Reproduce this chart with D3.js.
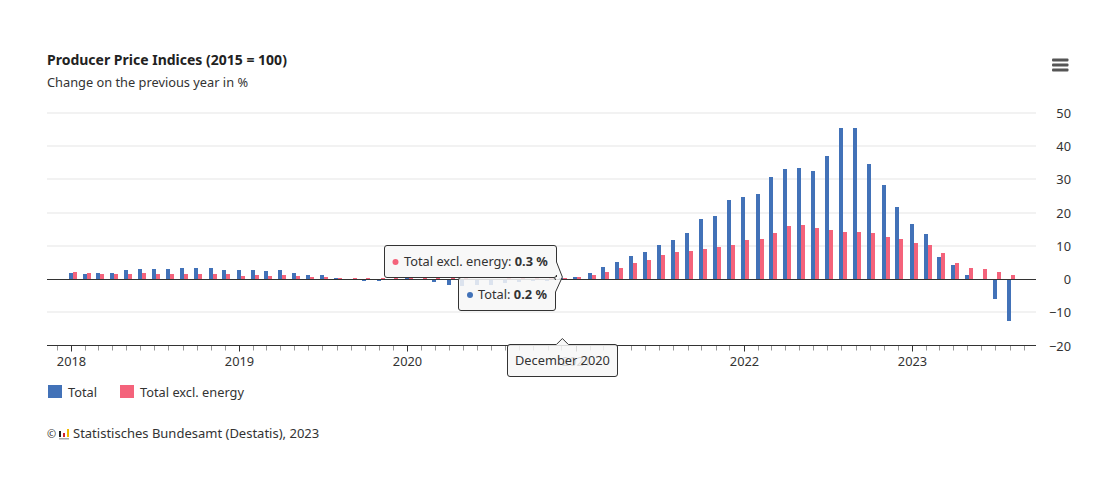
<!DOCTYPE html>
<html>
<head>
<meta charset="utf-8">
<title>Producer Price Indices</title>
<script src="https://cdnjs.cloudflare.com/ajax/libs/d3/7.8.5/d3.min.js"></script>
<style>
  html, body { margin: 0; padding: 0; background: #fff; }
  svg { display: block; }
  text { font-family: "Noto Sans", sans-serif; fill: #333; }
</style>
</head>
<body>
<svg id="chart" width="1107" height="478"></svg>
<script>
var seriesNames = ['Total', 'Total excl. energy'];
var seriesColors = ['#4272b8', '#f4637b'];
var yTicks = [-20, -10, 0, 10, 20, 30, 40, 50];

// monthly, January 2018 to August 2023
var total = [
  1.9, 1.6, 1.7, 1.9, 2.6, 2.9, 2.9, 3.1, 3.2, 3.2, 3.2, 2.6,
  2.6, 2.6, 2.3, 2.6, 1.9, 1.2, 1.1, 0.3, -0.1, -0.6, -0.7, -0.2,
  0.2, -0.1, -0.8, -1.9, -2.2, -1.8, -1.7, -1.2, -1.0, -0.7, -0.5, 0.2,
  0.7, 1.9, 3.7, 5.2, 7.0, 8.2, 10.3, 11.8, 14.0, 18.2, 19.1, 23.9,
  24.8, 25.7, 30.8, 33.2, 33.5, 32.6, 37.2, 45.6, 45.6, 34.6, 28.3, 21.7,
  16.6, 13.6, 6.7, 4.3, 1.2, 0.1, -6.1, -12.6
];
var totalExclEnergy = [
  2.2, 1.9, 1.6, 1.6, 1.6, 1.9, 1.6, 1.6, 1.6, 1.6, 1.6, 1.6,
  1.0, 1.3, 1.0, 1.3, 1.0, 0.7, 0.7, 0.4, 0.3, 0.4, 0.3, 0.3,
  0.5, 0.5, 0.5, 0.3, 0.2, 0.1, 0.1, 0.2, 0.2, 0.2, 0.2, 0.3,
  0.7, 1.3, 2.2, 3.4, 4.9, 5.8, 7.3, 8.2, 8.5, 9.1, 9.7, 10.3,
  11.8, 12.1, 14.0, 16.1, 16.4, 15.5, 14.8, 14.2, 14.2, 13.9, 12.7, 12.1,
  10.9, 10.3, 7.9, 4.9, 3.3, 3.0, 2.2, 1.3
];
var hoverIndex = 35; // December 2020

var months = total.map(function(d, i) { return new Date(2018, i, 1); });

var svg = d3.select('#chart');
var plotLeft = 47, plotRight = 1035, plotTop = 113, plotBottom = 345.5;
var labelSize = '12.8px';

var x = d3.scaleTime()
  .domain([new Date(2018, 0, 1), new Date(2023, 0, 1)])
  .range([71.3, 912.4]);
x.domain([x.invert(plotLeft), x.invert(plotRight)]).range([plotLeft, plotRight]);

var y = d3.scaleLinear().domain([-20, 50]).range([plotBottom, plotTop]);

var band = d3.scaleBand().domain(seriesNames).range([-2.8, 5.2]);

function snapTicks(g) {
  g.selectAll('.tick').attr('transform', function(d) {
    return 'translate(' + (Math.floor(x(d)) + 0.5) + ',0)';
  });
}

// title
svg.append('text').attr('x', 47).attr('y', 65)
  .style('font-size', '14px').style('font-weight', 700).style('fill', '#222')
  .text('Producer Price Indices (2015 = 100)');
svg.append('text').attr('x', 47).attr('y', 87)
  .style('font-size', labelSize)
  .text('Change on the previous year in %');

// menu button
svg.append('g').selectAll('rect').data([60, 65, 70]).enter().append('rect')
  .attr('x', 1052).attr('y', function(d) { return d - 1.5; })
  .attr('width', 16.5).attr('height', 3).attr('rx', 1)
  .attr('fill', '#555');

// grid
svg.append('g').selectAll('line').data(yTicks.filter(function(d) { return d !== -20 && d !== 0; }))
  .enter().append('line')
  .attr('x1', plotLeft).attr('x2', plotRight + 1)
  .attr('y1', function(d) { return Math.round(y(d)); }).attr('y2', function(d) { return Math.round(y(d)); })
  .attr('stroke', '#f2f2f2').attr('stroke-width', 2);

// y labels
svg.append('g').selectAll('text').data(yTicks).enter().append('text')
  .attr('x', 1071).attr('y', function(d) { return y(d) + 5; })
  .attr('text-anchor', 'end').style('font-size', labelSize)
  .text(function(d) { return d < 0 ? '\u2212' + Math.abs(d) : d; });

// bars
[total, totalExclEnergy].forEach(function(values, s) {
  svg.append('g').selectAll('rect').data(values).enter().append('rect')
    .attr('x', function(d, i) { return Math.round(x(months[i]) + band(seriesNames[s])); })
    .attr('y', function(d) { return Math.round(y(Math.max(d, 0))); })
    .attr('width', band.bandwidth())
    .attr('height', function(d) { return Math.abs(Math.round(y(d)) - Math.round(y(0))); })
    .attr('fill', seriesColors[s]);
});

// zero line
var zeroY = Math.round(y(0)) + 0.5;
svg.append('line').attr('x1', plotLeft).attr('x2', plotRight + 1)
  .attr('y1', zeroY).attr('y2', zeroY).attr('stroke', '#333').attr('stroke-width', 1);

// x axis
var xMinor = d3.axisBottom(x).ticks(d3.timeMonth.every(1)).tickSize(5).tickFormat('');
var gMinor = svg.append('g').attr('transform', 'translate(0,' + plotBottom + ')').call(xMinor).call(snapTicks);
gMinor.select('.domain').remove();
gMinor.selectAll('line').attr('stroke', '#999');

var xMajor = d3.axisBottom(x).ticks(d3.timeYear.every(1)).tickSize(6).tickPadding(5)
  .tickFormat(d3.timeFormat('%Y'));
var gMajor = svg.append('g').attr('transform', 'translate(0,' + plotBottom + ')').call(xMajor).call(snapTicks);
gMajor.select('.domain').remove();
gMajor.selectAll('line').attr('stroke', '#333');
gMajor.selectAll('text').style('font-size', labelSize).style('font-family', '"Noto Sans", sans-serif');

svg.append('line').attr('x1', plotLeft).attr('x2', plotRight + 1)
  .attr('y1', plotBottom).attr('y2', plotBottom).attr('stroke', '#333').attr('stroke-width', 1);

// legend
var legendX = [48, 120];
seriesNames.forEach(function(name, i) {
  svg.append('rect').attr('x', legendX[i]).attr('y', 385)
    .attr('width', 14).attr('height', 13).attr('fill', seriesColors[i]);
  svg.append('text').attr('x', legendX[i] + 20).attr('y', 397)
    .style('font-size', labelSize).text(name);
});

// credit
svg.append('text').attr('x', 47).attr('y', 438).style('font-size', '11px').text('\u00a9');
var logo = svg.append('g').attr('transform', 'translate(59,429)');
logo.append('rect').attr('x', 0).attr('y', 9).attr('width', 10).attr('height', 1.5).attr('fill', '#aaa');
logo.append('rect').attr('x', 0).attr('y', 2).attr('width', 2).attr('height', 6).attr('fill', '#222');
logo.append('rect').attr('x', 4).attr('y', 4).attr('width', 2).attr('height', 4).attr('fill', '#d3232a');
logo.append('rect').attr('x', 8).attr('y', 0).attr('width', 2).attr('height', 8).attr('fill', '#f2b900');
svg.append('text').attr('x', 73).attr('y', 438).style('font-size', '13px')
  .text('Statistisches Bundesamt (Destatis), 2023');

// tooltip
var tipX = x(months[hoverIndex]) + 0.5;
var tipY = zeroY - 2.5;
var tipFill = 'rgba(247,247,247,0.85)';
var tip = svg.append('g');

function box(x0, y0, x1, y1, pts) {
  var r = 2.5;
  return 'M' + (x0 + r) + ',' + y0 + 'H' + (x1 - r) + 'Q' + x1 + ',' + y0 + ' ' + x1 + ',' + (y0 + r) +
    pts + 'V' + (y1 - r) + 'Q' + x1 + ',' + y1 + ' ' + (x1 - r) + ',' + y1 +
    'H' + (x0 + r) + 'Q' + x0 + ',' + y1 + ' ' + x0 + ',' + (y1 - r) +
    'V' + (y0 + r) + 'Q' + x0 + ',' + y0 + ' ' + (x0 + r) + ',' + y0;
}

// fill and outline apart, the callouts have no edge along the shared side
function tipBox(x0, y0, x1, y1, fillPts, linePts) {
  tip.append('path').attr('d', box(x0, y0, x1, y1, fillPts)).attr('fill', tipFill);
  tip.append('path').attr('d', box(x0, y0, x1, y1, linePts)).attr('fill', 'none').attr('stroke', '#333');
}

var totalRight = 555.5, exclRight = 556.5;
tipBox(458.5, 277.5, totalRight, 310.5,
  'V' + tipY + 'L' + tipX + ',' + tipY + 'L' + totalRight + ',292',
  'M' + tipX + ',' + tipY + 'L' + totalRight + ',292');
tipBox(384.5, 245.5, exclRight, 277.5,
  'V262L' + tipX + ',' + tipY + 'L' + exclRight + ',' + tipY,
  'V262L' + tipX + ',' + tipY + 'M' + exclRight + ',' + tipY);

function tipRow(cx, textX, baseline, s, value) {
  svg.append('circle').attr('cx', cx).attr('cy', baseline - 4).attr('r', 3).attr('fill', seriesColors[s]);
  var t = svg.append('text').attr('x', textX).attr('y', baseline).style('font-size', labelSize);
  t.append('tspan').text(seriesNames[s] + ': ');
  t.append('tspan').style('font-weight', 700).text(value.toFixed(1) + ' %');
}
tipRow(395.5, 404, 266, 1, totalExclEnergy[hoverIndex]);
tipRow(470, 478, 299, 0, total[hoverIndex]);

var dateY0 = 344.5, dateY1 = 376.5;
tip.append('path').attr('d', 'M510,' + dateY0 + 'H' + (tipX - 6) + 'L' + tipX + ',' + (dateY0 - 6) +
  'L' + (tipX + 6) + ',' + dateY0 + 'H615Q617.5,' + dateY0 + ' 617.5,' + (dateY0 + 2.5) +
  'V' + (dateY1 - 2.5) + 'Q617.5,' + dateY1 + ' 615,' + dateY1 + 'H510Q507.5,' + dateY1 + ' 507.5,' + (dateY1 - 2.5) +
  'V' + (dateY0 + 2.5) + 'Q507.5,' + dateY0 + ' 510,' + dateY0 + 'Z')
  .attr('fill', tipFill).attr('stroke', '#333');
svg.append('text').attr('x', 515).attr('y', 365).style('font-size', labelSize)
  .text(d3.timeFormat('%B %Y')(months[hoverIndex]));
</script>
</body>
</html>
